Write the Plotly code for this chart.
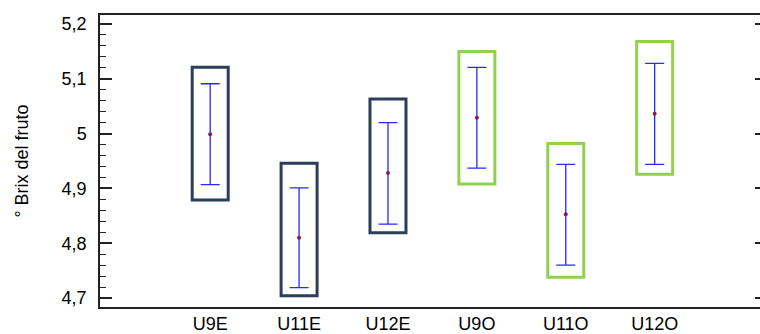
import plotly.graph_objects as go

categories = ["U9E", "U11E", "U12E", "U9O", "U11O", "U12O"]
means = [4.999, 4.810, 4.928, 5.029, 4.853, 5.036]
whisker_low = [4.907, 4.719, 4.835, 4.937, 4.760, 4.944]
whisker_high = [5.091, 4.901, 5.020, 5.121, 4.944, 5.128]
box_low = [4.879, 4.704, 4.819, 4.908, 4.738, 4.926]
box_high = [5.121, 4.946, 5.063, 5.150, 4.982, 5.168]
box_colors = ["#2b3e5a", "#2b3e5a", "#2b3e5a", "#92d050", "#92d050", "#92d050"]
ytick_vals = [4.7, 4.8, 4.9, 5.0, 5.1, 5.2]
ytick_text = ["4,7", "4,8", "4,9", "5", "5,1", "5,2"]

FONT = "Liberation Sans, Arial, sans-serif"

fig = go.Figure()

fig.add_trace(go.Bar(
    x=categories,
    y=[h - l for h, l in zip(box_high, box_low)],
    base=box_low,
    width=0.405,
    marker=dict(color="rgba(255,255,255,0)", line=dict(color=box_colors, width=3)),
    showlegend=False,
    hoverinfo="skip",
))

fig.add_trace(go.Scatter(
    x=categories,
    y=means,
    mode="markers",
    marker=dict(color="#8b1a4a", size=4),
    error_y=dict(
        type="data",
        symmetric=False,
        array=[h - m for h, m in zip(whisker_high, means)],
        arrayminus=[m - l for m, l in zip(means, whisker_low)],
        color="rgb(40,40,255)",
        thickness=1.3,
        width=9.5,
    ),
    showlegend=False,
))

# right-side ticks
fig.add_trace(go.Scatter(x=[categories[0]], y=[None], yaxis="y2", showlegend=False, hoverinfo="skip"))

yr = [4.6836, 5.2164]
fig.update_layout(
    width=760, height=334,
    margin=dict(l=100, r=0, t=15, b=27),
    paper_bgcolor="white", plot_bgcolor="white",
    font=dict(family=FONT, size=17, color="black"),
    barmode="overlay",
    xaxis=dict(
        type="category", range=[-1.2396, 6.185], automargin=False,
        showline=True, linecolor="#222", linewidth=1.5, mirror=True,
        ticks="", showgrid=False, zeroline=False,
        tickfont=dict(size=18), ticklabelstandoff=0,
    ),
    yaxis=dict(
        range=yr, tickmode="array", tickvals=ytick_vals, ticktext=ytick_text,
        automargin=False,
        ticks="inside", ticklen=12, tickwidth=1.5, tickcolor="#222",
        minor=dict(tickmode="linear", tick0=4.7, dtick=0.02, ticks="inside",
                   ticklen=6, tickwidth=1.2, tickcolor="#222", showgrid=False),
        showline=True, linecolor="#222", linewidth=1.5,
        showgrid=False, zeroline=False,
        tickfont=dict(size=18),
        ticklabelstandoff=8,
        title=dict(text="° Brix del fruto", font=dict(size=18), standoff=28),
    ),
    yaxis2=dict(
        overlaying="y", side="right", range=yr, tickmode="array", tickvals=ytick_vals,
        automargin=False,
        ticks="inside", ticklen=5, tickwidth=1.5, tickcolor="#222",
        showticklabels=False, showline=False, showgrid=False, zeroline=False,
    ),
)

fig.write_html("out.html")
